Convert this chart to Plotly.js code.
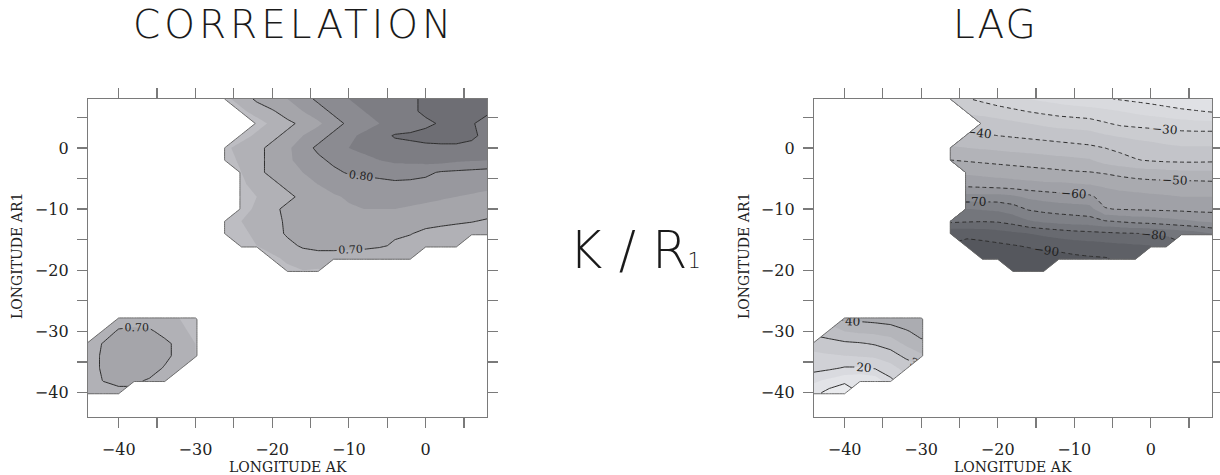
<!DOCTYPE html>
<html>
<head>
<meta charset="utf-8">
<script src="https://cdn.plot.ly/plotly-3.0.1.min.js"></script>
<style>
  html, body { margin: 0; padding: 0; background: #ffffff; }
  #chart { width: 1220px; height: 475px; }
</style>
</head>
<body>
<div id="chart"></div>
<script>
// ---------------- DATA ----------------
// Tick values / labels (shared by both panels)
const tickVals = [-40, -35, -30, -25, -20, -15, -10, -5, 0, 5];
const tickText = ['\u221240', '', '\u221230', '', '\u221220', '', '\u221210', '', '0', ''];

// Grid of the main (upper-right) region, longitude AK (x) and AR1 (y)
const mainX = [-28, -26, -24, -22, -20, -18, -16, -14, -12, -10, -8, -6, -4, -2, 0, 2, 4, 6, 8];
const mainY = [8, 6, 4, 2, 0, -2, -4, -6, -8, -10, -12, -14, -16, -18, -20, -22];

// Grid of the small (lower-left) region
const blobX = [-44, -42, -40, -38, -36, -34, -32, -30, -28];
const blobY = [-26, -28, -30, -32, -34, -36, -38, -40, -42];

const _ = null;

// CORRELATION, main region (rows from y=8 down to y=-22)
const corrMain = [
  [_, .64, .67, .71, .73, .75, .78, .81, .83, .85, .86, .87, .88, .89, .91, .92, .93, .93, .92],
  [_, _, .64, .67, .695, .72, .75, .78, .81, .83, .85, .86, .87, .89, .91, .92, .93, .93, .91],
  [_, _, _, .63, .66, .69, .71, .74, .78, .81, .83, .85, .86, .87, .89, .905, .91, .905, .88],
  [_, _, .63, .66, .69, .71, .75, .78, .81, .84, .86, .88, .905, .91, .915, .92, .92, .91, .885],
  [_, .64, .67, .69, .71, .74, .78, .81, .83, .85, .86, .87, .88, .885, .89, .89, .89, .885, .87],
  [_, .63, .66, .69, .71, .74, .77, .79, .81, .83, .84, .85, .86, .865, .87, .87, .86, .855, .85],
  [_, _, .65, .69, .71, .73, .75, .77, .79, .805, .81, .815, .82, .815, .81, .795, .79, .785, .78],
  [_, _, .64, .67, .69, .71, .73, .75, .765, .775, .78, .785, .79, .79, .785, .78, .77, .765, .76],
  [_, _, .63, .65, .67, .69, .71, .73, .745, .755, .76, .765, .765, .765, .76, .755, .75, .745, .74],
  [_, _, .63, .66, .69, .71, .72, .73, .74, .745, .75, .75, .75, .745, .74, .735, .73, .725, .72],
  [_, .63, .65, .67, .69, .705, .715, .72, .725, .73, .73, .73, .725, .72, .715, .71, .706, .702, .695],
  [_, .62, .64, .66, .685, .705, .71, .715, .715, .715, .71, .71, .705, .702, .69, .685, .68, .675, .67],
  [_, _, .63, .65, .67, .69, .705, .71, .71, .71, .71, .705, .695, .685, .675, .665, .655, _, _],
  [_, _, _, _, .64, .66, .68, .685, .685, .68, .675, .67, .66, .65, _, _, _, _, _],
  [_, _, _, _, _, .64, .65, .645, _, _, _, _, _, _, _, _, _, _, _],
  [_, _, _, _, _, _, _, _, _, _, _, _, _, _, _, _, _, _, _]
];

// CORRELATION, small region (rows from y=-26 down to y=-42)
const corrBlob = [
  [_, _, _, _, _, _, _, _, _],
  [_, _, .66, .67, .67, .66, .65, .63, _],
  [_, .66, .71, .715, .71, .68, .66, .64, _],
  [.66, .705, .73, .735, .73, .715, .68, .65, _],
  [.67, .71, .745, .75, .74, .715, .68, .65, _],
  [.67, .71, .745, .745, .725, .695, .67, _, _],
  [.66, .703, .72, .71, .695, .67, _, _, _],
  [.65, .67, .68, _, _, _, _, _, _],
  [_, _, _, _, _, _, _, _, _]
];

// LAG, main region (rows from y=8 down to y=-22)
const lagMain = [
  [_, -31, -30.3, -29, -27.5, -26, -25, -24, -23, -22, -21.2, -20.5, -19.6, -18.8, -18, -17, -16, -15, -14.5],
  [_, _, -34, -33, -32, -31, -29.8, -28.8, -28, -27.5, -27, -26, -25, -24, -23, -22, -21, -20.3, -19.5],
  [_, _, _, -38, -37, -36, -35, -34, -33, -32.5, -32, -30.5, -29, -28.5, -28, -27.5, -27, -26.5, -26.5],
  [_, _, -41, -40.5, -40, -39.5, -39, -38.5, -38, -37.5, -37, -35.5, -34.5, -33.5, -33, -32.5, -32, -32, -32],
  [_, -45.5, -45, -44.5, -44, -43.5, -43, -42.5, -42, -41.5, -41, -40, -39, -38, -37, -36, -35.5, -35.5, -35.5],
  [_, -50, -49.5, -49, -48.5, -48, -47.5, -47, -46.5, -46, -45.5, -43, -41.5, -40.3, -39.5, -39, -38.8, -38.8, -39],
  [_, _, -54, -53.5, -53, -52.5, -52, -51.5, -51, -50.5, -50.2, -49.5, -48.5, -47.5, -47, -46.5, -46.2, -46, -46],
  [_, _, -58.5, -58, -57.5, -57, -56.5, -56, -56, -55.5, -55, -54, -53, -52.5, -52, -52, -51.8, -51.8, -51.5],
  [_, _, -67, -67, -67, -66, -64, -63, -62, -61.5, -61, -58, -57, -56.5, -56, -55.5, -55, -55, -55],
  [_, _, -75, -74.5, -74, -72.5, -69.5, -68.5, -68, -67.5, -67, -60.3, -59.7, -59.5, -59.2, -59, -58.8, -58.5, -58.5],
  [_, -79, -79.5, -79.8, -79.5, -78, -75.5, -74, -73, -72.5, -72, -70.5, -69.5, -68.5, -68, -67, -66, -65, -64],
  [_, -89, -88.5, -88, -87, -86, -85, -84, -83, -82, -81.5, -81, -80.5, -80.2, -79.5, -79, -78, -77, -75],
  [_, _, -92, -91.5, -91, -90.3, -89.5, -88.5, -88, -87.5, -87, -86.5, -86, -85.5, -85, -84, _, _, _],
  [_, _, _, -94, -94, -93.5, -93, -92.5, -92, -91, -90.5, -90.2, -89.5, -89, _, _, _, _, _],
  [_, _, _, _, _, -95, -95, -94.5, _, _, _, _, _, _, _, _, _, _, _],
  [_, _, _, _, _, _, _, _, _, _, _, _, _, _, _, _, _, _, _]
];

// LAG, small region (rows from y=-26 down to y=-42)
const lagBlob = [
  [_, _, _, _, _, _, _, _, _],
  [_, _, 41, 41, 41.5, 42, 43, 44, _],
  [_, 33, 35, 36, 36.5, 37.5, 39.5, 41.5, _],
  [27, 28, 29, 29.5, 30.5, 32, 36, 39, _],
  [24, 24.5, 25, 25.5, 26, 28, 31, 34, _],
  [22, 21, 19.5, 19.5, 20.5, 23, 27, _, _],
  [16, 14, 11.5, 10.5, 12, 19, _, _, _],
  [12, 8, 6, _, _, _, _, _, _],
  [_, _, _, _, _, _, _, _, _]
];

// ---------------- STYLES ----------------
const corrScale = [[0, '#c8c8cd'], [0.125, '#bdbdc2'], [0.25, '#b1b1b6'], [0.375, '#a5a5aa'],
  [0.5, '#98989e'], [0.625, '#8b8b91'], [0.75, '#7d7d83'], [0.875, '#6e6e74'], [1, '#606066']];
const lagMainScale = [[0, '#4f5156'], [0.088, '#585a60'], [0.206, '#6e7076'], [0.324, '#85878d'],
  [0.441, '#9b9ca2'], [0.559, '#aeafb4'], [0.676, '#bfc0c5'], [0.794, '#cfd0d4'], [0.912, '#dddee2'], [1, '#e6e7ea']];
const lagBlobScale = [[0, '#eeeff2'], [0.167, '#e6e7eb'], [0.389, '#d5d6db'], [0.611, '#c2c3c8'],
  [0.833, '#afb0b5'], [1, '#a3a4a9']];

const serif = 'DejaVu Serif, Liberation Serif, serif';
const sansLight = 'DejaVu Sans, Lato, sans-serif';

function asc(y, z) {
  return { y: y.slice().reverse(), z: z.slice().reverse() };
}
function fillTrace(x, y, z, xa, ya, start, end, size, scale) {
  const d = asc(y, z);
  return {
    type: 'contour', x: x, y: d.y, z: d.z, xaxis: xa, yaxis: ya,
    connectgaps: false, autocontour: false, showscale: false, hoverinfo: 'skip',
    contours: { start: start, end: end, size: size, coloring: 'fill', showlines: false },
    colorscale: scale, line: { width: 0, smoothing: 0 }
  };
}
function lineTrace(x, y, z, xa, ya, start, end, size, dash, fmt, fsize, labels) {
  const d = asc(y, z);
  return {
    type: 'contour', x: x, y: d.y, z: d.z, xaxis: xa, yaxis: ya,
    connectgaps: false, autocontour: false, showscale: false, hoverinfo: 'skip',
    contours: { start: start, end: end, size: size, coloring: 'none', showlabels: labels,
      labelfont: { family: serif, size: fsize, color: '#222' }, labelformat: fmt },
    line: { color: '#2e2e2e', width: 1, dash: dash, smoothing: 0 }
  };
}
function outlineTrace(x, y, z, xa, ya) {
  const d = asc(y, z);
  const mask = d.z.map(r => r.map(v => (v === null ? 0 : 1)));
  return {
    type: 'contour', x: x, y: d.y, z: mask, xaxis: xa, yaxis: ya,
    autocontour: false, showscale: false, hoverinfo: 'skip',
    contours: { start: 0.9, end: 0.9, size: 1, coloring: 'none' },
    line: { color: '#6a6a6a', width: 1, smoothing: 0 }
  };
}

const traces = [
  fillTrace(mainX, mainY, corrMain, 'x', 'y', 0.60, 0.95, 0.05, corrScale),
  fillTrace(blobX, blobY, corrBlob, 'x', 'y', 0.60, 0.95, 0.05, corrScale),
  lineTrace(mainX, mainY, corrMain, 'x', 'y', 0.70, 0.80, 0.10, 'solid', '.2f', 11, true),
  lineTrace(mainX, mainY, corrMain, 'x', 'y', 0.90, 0.90, 0.10, 'solid', '.2f', 11, false),
  lineTrace(blobX, blobY, corrBlob, 'x', 'y', 0.70, 0.80, 0.10, 'solid', '.2f', 11, true),
  outlineTrace(mainX, mainY, corrMain, 'x', 'y'),
  outlineTrace(blobX, blobY, corrBlob, 'x', 'y'),

  fillTrace(mainX, mainY, lagMain, 'x2', 'y2', -95, -15, 5, lagMainScale),
  fillTrace(blobX, blobY, lagBlob, 'x2', 'y2', 5, 45, 5, lagBlobScale),
  lineTrace(mainX, mainY, lagMain, 'x2', 'y2', -90, -20, 10, '4px,3px', 'd', 12, true),
  lineTrace(blobX, blobY, lagBlob, 'x2', 'y2', 10, 40, 10, 'solid', 'd', 12, true),
  outlineTrace(mainX, mainY, lagMain, 'x2', 'y2'),
  outlineTrace(blobX, blobY, lagBlob, 'x2', 'y2')
];

const W = 1220, H = 475;
function axisStyle(extra) {
  return Object.assign({
    range: [-44, 8], autorange: false, showgrid: false, zeroline: false,
    showline: true, linecolor: '#7a7a7a', linewidth: 1.2, mirror: 'ticks',
    ticks: 'outside', ticklen: 10, tickwidth: 1.2, tickcolor: '#7a7a7a',
    tickmode: 'array', tickvals: tickVals, ticktext: tickText,
    tickfont: { family: serif, size: 16, color: '#222' }, fixedrange: true
  }, extra);
}
const yDom = [1 - 417 / H, 1 - 99 / H];

const titleFont = { family: sansLight, size: 39, weight: 200, color: '#1a1a1a' };
const axTitleFont = { family: serif, size: 14, color: '#222' };

const layout = {
  width: W, height: H, margin: { l: 0, r: 0, t: 0, b: 0 },
  paper_bgcolor: '#ffffff', plot_bgcolor: '#ffffff', showlegend: false,
  xaxis: axisStyle({ domain: [88 / W, 487 / W], anchor: 'y', ticklabelstandoff: 8 }),
  yaxis: axisStyle({ domain: yDom, anchor: 'x', ticklabelstandoff: 5 }),
  xaxis2: axisStyle({ domain: [814 / W, 1212 / W], anchor: 'y2', ticklabelstandoff: 8 }),
  yaxis2: axisStyle({ domain: yDom, anchor: 'x2', ticklabelstandoff: 5 }),
  annotations: [
    { text: 'CORRELATION', x: 294 / W, y: 1 - 25 / H, xref: 'paper', yref: 'paper', xanchor: 'center', yanchor: 'middle', showarrow: false, font: titleFont },
    { text: 'LAG', x: 996 / W, y: 1 - 25 / H, xref: 'paper', yref: 'paper', xanchor: 'center', yanchor: 'middle', showarrow: false, font: titleFont },
    { text: 'K / R<span style="font-size:21px">1</span>', x: 567 / W, y: 1 - 251 / H, xref: 'paper', yref: 'paper', xanchor: 'left', yanchor: 'middle', showarrow: false, font: { family: sansLight, size: 51, weight: 200, color: '#1a1a1a' } },
    { text: 'LONGITUDE AK', x: 287.5 / W, y: 1 - 467 / H, xref: 'paper', yref: 'paper', xanchor: 'center', yanchor: 'middle', showarrow: false, font: axTitleFont },
    { text: 'LONGITUDE AK', x: 1013 / W, y: 1 - 467 / H, xref: 'paper', yref: 'paper', xanchor: 'center', yanchor: 'middle', showarrow: false, font: axTitleFont },
    { text: 'LONGITUDE AR1', x: 17 / W, y: 1 - 256 / H, xref: 'paper', yref: 'paper', xanchor: 'center', yanchor: 'middle', textangle: -90, showarrow: false, font: axTitleFont },
    { text: 'LONGITUDE AR1', x: 744 / W, y: 1 - 256 / H, xref: 'paper', yref: 'paper', xanchor: 'center', yanchor: 'middle', textangle: -90, showarrow: false, font: axTitleFont }
  ]
};

Plotly.newPlot('chart', traces, layout, { staticPlot: true, displayModeBar: false }).then(function () {
  // widen the two panel titles like the wide geometric face of the original
  document.querySelectorAll('text.annotation-text').forEach(function (t) {
    if (t.textContent === 'CORRELATION') t.setAttribute('letter-spacing', '4px');
    if (t.textContent === 'LAG') t.setAttribute('letter-spacing', '2px');
  });
});
</script>
</body>
</html>
